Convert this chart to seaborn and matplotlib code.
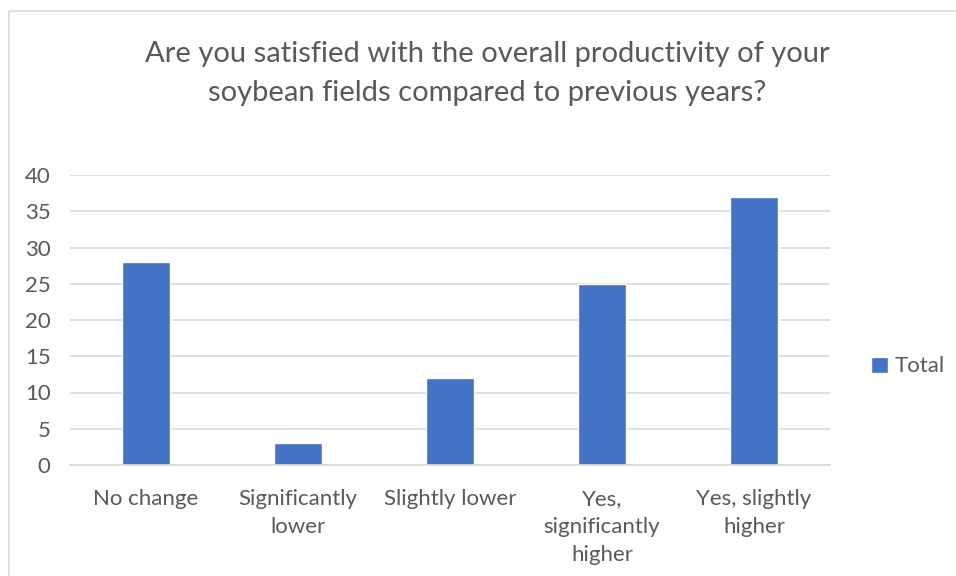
import matplotlib
matplotlib.use("Agg")
import matplotlib.pyplot as plt
import matplotlib.patches as mpatches
import seaborn as sns
import pandas as pd

categories = ["No change", "Significantly\nlower", "Slightly lower",
              "Yes,\nsignificantly\nhigher", "Yes, slightly\nhigher"]
values = [28, 3, 12, 25, 37]
series_name = "Total"
title = "Are you satisfied with the overall productivity of your\nsoybean fields compared to previous years?"
yticks = [0, 5, 10, 15, 20, 25, 30, 35, 40]

sns.set_theme(style="white")
plt.rcParams['font.family'] = ['Lato', 'DejaVu Sans']

TEXT = "#595959"
BAR = "#4472C4"
GRID = "#D9D9D9"

df = pd.DataFrame({"cat": categories, "val": values, "series": series_name})

fig = plt.figure(figsize=(9.56, 5.76), dpi=100)
ax = fig.add_axes([70/956, 1-465/576, (830-70)/956, (465-175)/576])

sns.barplot(data=df, x="cat", y="val", hue="series", palette=[BAR],
            width=0.31, ax=ax, saturation=1, legend=True)

ax.set_ylim(0, 40)
ax.set_yticks(yticks)
ax.set_xlim(-0.5, len(categories)-0.5)
ax.yaxis.grid(True, color=GRID, linewidth=1.2)
ax.set_axisbelow(True)
for s in ["top", "right", "left"]:
    ax.spines[s].set_visible(False)
ax.spines["bottom"].set_color(GRID)
ax.spines["bottom"].set_linewidth(1.2)
ax.set_xlabel("")
ax.set_ylabel("")
ax.tick_params(axis="both", length=0, colors=TEXT, labelsize=16)
ax.tick_params(axis="y", pad=14)
ax.tick_params(axis="x", pad=17.5)
for lab in ax.get_xticklabels():
    lab.set_linespacing(1.48)

leg = ax.legend(loc="center left", bbox_to_anchor=(792/760, 0.34),
                frameon=False, fontsize=16, handlelength=0.75, handleheight=0.75,
                handletextpad=0.3, labelcolor=TEXT, borderaxespad=0)

fig.text(487/956, 1-41/576, title, ha="center", va="top", fontsize=21,
         color=TEXT, linespacing=1.62)

border = mpatches.Rectangle((8.5/956, -0.1), 1.2, 1.1 - 10.5/576,
                            transform=fig.transFigure, fill=False,
                            edgecolor="#D9D9D9", linewidth=1.2, clip_on=False)
fig.patches.append(border)

fig.savefig("out.png", dpi=100)
